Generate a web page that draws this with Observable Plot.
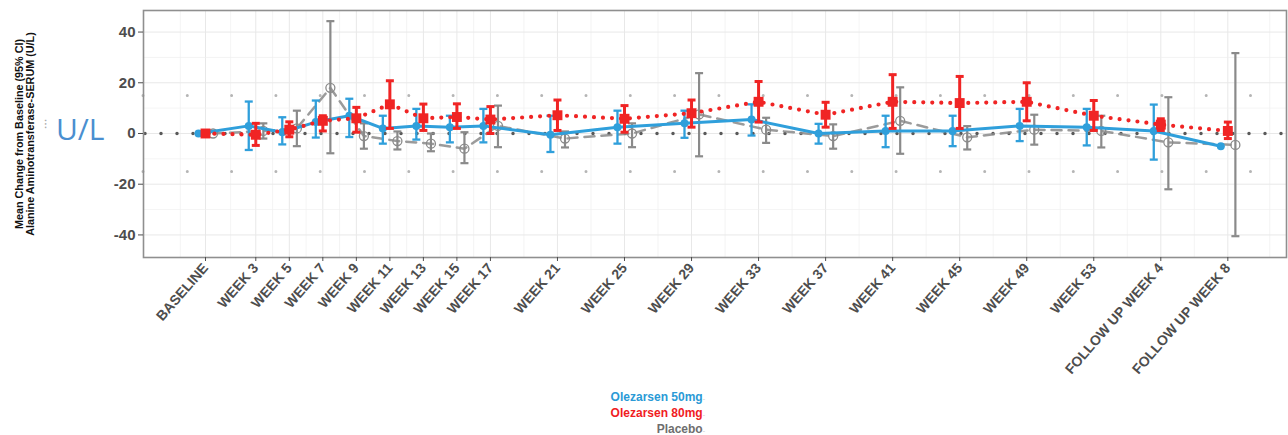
<!DOCTYPE html>
<html><head><meta charset="utf-8">
<script src="https://cdn.jsdelivr.net/npm/d3@7"></script>
<script src="https://cdn.jsdelivr.net/npm/@observablehq/plot@0.6"></script>
<style>
body{margin:0;background:#fff;font-family:"Liberation Sans",Arial,sans-serif;}
#wrap{position:relative;width:1288px;height:435px;overflow:hidden;}
#legend{position:absolute;right:583px;top:390px;text-align:right;font-weight:bold;font-size:12px;line-height:14px;}
#legend span.k{font-size:7px;color:#c8c8c8;font-weight:normal;}
#ul{position:absolute;left:56px;top:112px;font-family:"Open Sans",sans-serif;font-size:30px;color:#4a8fd0;line-height:34px;}
#ulmark{position:absolute;left:44px;top:118px;font-size:12px;color:#aaa;line-height:12px;}
</style></head><body>
<div id="wrap"><div id="chart"></div>
<div id="ulmark">⁝</div>
<div id="ul">U/L</div>
<div id="legend">
<div style="color:#2a9ad6">Olezarsen 50mg<span class="k">-</span></div>
<div style="color:#f0201f">Olezarsen 80mg<span class="k">-</span></div>
<div style="color:#6e6e6e">Placebo<span class="k">-</span></div>
</div></div>
<script>
// ---- data ----
const weeks = [0,3,5,7,9,11,13,15,17,21,25,29,33,37,41,45,49,53,57,61];
const weekLabels = ["BASELINE","WEEK 3","WEEK 5","WEEK 7","WEEK 9","WEEK 11","WEEK 13","WEEK 15","WEEK 17","WEEK 21","WEEK 25","WEEK 29","WEEK 33","WEEK 37","WEEK 41","WEEK 45","WEEK 49","WEEK 53","FOLLOW UP WEEK 4","FOLLOW UP WEEK 8"];
const seriesNames = ["Olezarsen 50mg","Olezarsen 80mg","Placebo"];

const mean50 = [0,3,0.5,4.5,7,2,3,2.5,3,-0.5,2.5,4,5.5,0,1,1,3,2.5,1,-5];
const lo50   = [null,-6.5,-4.3,-1.6,-1.4,-4,-2.4,-3.5,-3.5,-7.3,-4,-1.7,-0.8,-4,-5.4,-5,-3,-4.7,-10.3,null];
const hi50   = [null,12.6,6.4,13,13.7,7,9.7,7,9.7,7,9,9,11.5,3.8,7,7,9.7,9.7,11.4,null];

const mean80 = [0,-0.5,1.5,5,6,11.5,6,6.5,5.5,7.2,5.8,8,12.5,7.4,12.5,12,12.5,7,3.5,1];
const lo80   = [null,-4.7,-1.3,1,0.5,2,1.2,2,0,1.2,0.5,2.5,4.5,2.5,2,2,5,1.2,1.2,-2];
const hi80   = [null,4,4.6,7,10.3,20.8,11.6,11.7,10.6,13.2,11,13.2,20.5,12.3,23.2,22.5,20,13,5.8,4.5];

const meanPbo = [0,1,2,18,-1,-3,-4,-6,3,-2,0,7.5,1.5,-1,5,-1.5,1.5,1,-3.5,-4.5];
const loPbo   = [null,-2,-5,-7.8,-6,-6.3,-7,-11.7,-5.4,-5.5,-5.4,-9,-3.7,-6,-8,-6.3,-4.4,-5.5,-22,-40.5];
const hiPbo   = [null,4,9,44.3,4,0.8,0,0.5,11,0.8,4,23.8,6.2,3.6,18.2,2.9,7.4,7,14.3,31.7];

const yTicks = [-40,-20,0,20,40];
const yMinor = [-30,-10,10,30];
const refDots = [15,-15];
const yLabel1 = "Mean Change from Baseline (95% CI)";
const yLabel2 = "Alanine Aminotransferase-SERUM (U/L)";

// ---- build ----
const build = (m, lo, hi, s) => weeks.map((w,i)=>({week:w, mean:m[i], lo:lo[i], hi:hi[i], series:s}));
const d50 = build(mean50, lo50, hi50, seriesNames[0]);
const d80 = build(mean80, lo80, hi80, seriesNames[1]);
const dPb = build(meanPbo, loPbo, hiPbo, seriesNames[2]);

const dodge = {[seriesNames[0]]:-0.42, [seriesNames[1]]:0, [seriesNames[2]]:0.45};
const X = d => d.week + dodge[d.series];
const labelOf = w => weekLabels[weeks.indexOf(w)];
const minorX = [-1.5, ...weeks.slice(1).map((w,i)=>(w+weeks[i])/2), 63.5];

const cap = {draw(ctx, size){ const r = Math.sqrt(size/Math.PI); ctx.moveTo(-r,0); ctx.lineTo(r,0); }};
const hasCI = d => d.lo != null && d.hi != null;

const C50 = "#2f9fdb", C80 = "#f02424", CPB = "#8a8a8a";

function errMarks(data, color, sw){
  const f = data.filter(hasCI);
  return [
    Plot.ruleX(f, {x:X, y1:"lo", y2:"hi", stroke:color, strokeWidth:sw}),
    Plot.dot(f, {x:X, y:"lo", symbol:cap, r:4, stroke:color, strokeWidth:sw}),
    Plot.dot(f, {x:X, y:"hi", symbol:cap, r:4, stroke:color, strokeWidth:sw})
  ];
}

const chart = Plot.plot({
  width:1288, height:390,
  marginTop:10, marginBottom:133, marginLeft:143, marginRight:2,
  style:{fontFamily:"'Liberation Sans', Arial, sans-serif", background:"#fff", overflow:"visible"},
  x:{domain:[-3.7,64.5]},
  y:{domain:[-48.9,48.5]},
  marks:[
    Plot.ruleX(minorX, {stroke:"#efefef", strokeWidth:0.7}),
    Plot.ruleX(weeks, {stroke:"#e8e8e8", strokeWidth:1}),
    Plot.ruleY(yMinor, {stroke:"#efefef", strokeWidth:0.7}),
    Plot.ruleY(yTicks, {stroke:"#e8e8e8", strokeWidth:1}),
    Plot.ruleY(refDots, {stroke:"#b5b5b5", strokeWidth:3, strokeDasharray:"0,44.3", strokeLinecap:"round"}),
    Plot.ruleY([0], {stroke:"#5a5a5a", strokeWidth:3.5, strokeDasharray:"0,16", strokeLinecap:"round", dx:2}),
    // placebo
    Plot.line(dPb, {x:X, y:"mean", stroke:CPB, strokeWidth:2.5, strokeDasharray:"10,7", strokeOpacity:0.85}),
    ...errMarks(dPb, CPB, 2.2),
    Plot.dot(dPb, {x:X, y:"mean", r:4.5, stroke:CPB, strokeWidth:1.3, fill:"none"}),
    // 50 mg
    Plot.line(d50, {x:X, y:"mean", stroke:C50, strokeWidth:3}),
    ...errMarks(d50, C50, 2.3),
    Plot.dot(d50, {x:X, y:"mean", r:4, fill:C50}),
    // 80 mg
    Plot.line(d80, {x:X, y:"mean", stroke:C80, strokeWidth:4.2, strokeDasharray:"0,9", strokeLinecap:"round"}),
    ...errMarks(d80, C80, 3),
    Plot.dot(d80, {x:X, y:"mean", r:5.6, symbol:"square", fill:C80}),
    Plot.frame({stroke:"#8f8f8f", strokeWidth:1.6}),
    Plot.axisY({ticks:yTicks, tickFormat:d=>String(d), tickSize:5, tickPadding:3, fontSize:15, fontWeight:"bold", color:"#4d4d4d", label:null}),
    Plot.axisX({ticks:weeks, tickFormat:labelOf, tickRotate:-49, tickSize:4, tickPadding:4, fontSize:14, fontWeight:"bold", color:"#4d4d4d", label:null}),
    Plot.text([yLabel1], {text:d=>d, frameAnchor:"left", textAnchor:"middle", dx:-124, rotate:-90, fontSize:10.8, fontWeight:"bold", fill:"#111"}),
    Plot.text([yLabel2], {text:d=>d, frameAnchor:"left", textAnchor:"middle", dx:-113, rotate:-90, fontSize:10.8, fontWeight:"bold", fill:"#111"})
  ]
});
document.getElementById("chart").appendChild(chart);
</script>
</body></html>
